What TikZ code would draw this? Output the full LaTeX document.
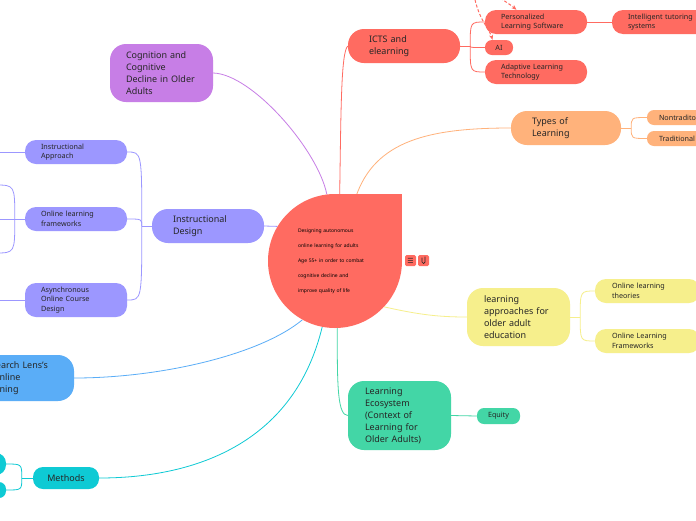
\documentclass[tikz,border=0pt]{standalone}
\usepackage{fontspec}
\setmainfont{Noto Sans}
\newfontfamily\symfont{DejaVu Sans}
\usetikzlibrary{backgrounds,arrows.meta}

\definecolor{ink}{HTML}{262626}
\definecolor{cred}{HTML}{FF6B61}
\definecolor{corange}{HTML}{FFB27B}
\definecolor{cpurple}{HTML}{C77EE6}
\definecolor{cviolet}{HTML}{9C97FF}
\definecolor{cblue}{HTML}{5AADF7}
\definecolor{cteal}{HTML}{0ECAD4}
\definecolor{cyellow}{HTML}{F6EF8C}
\definecolor{cgreen}{HTML}{43D6A6}

\begin{document}
\begin{tikzpicture}[x=1pt, y=-1pt,
    topic/.style={rounded corners=16pt, inner ysep=0pt, inner xsep=17pt, align=left,
      text=ink, font=\fontsize{9}{12}\selectfont},
    leaf/.style={rounded corners=11pt, inner ysep=0pt, inner xsep=16pt, align=left,
      text=ink, font=\fontsize{7.2}{9.5}\selectfont, minimum height=24pt, text width=70pt},
    chip/.style={leaf, rounded corners=7pt, minimum height=15pt},
    icon/.style={fill=cred, rounded corners=1.5pt, minimum size=11pt, inner sep=0pt, text=ink},
    link/.style={line width=0.8pt},
    remark/.style={cred, line width=1pt, dash pattern=on 3pt off 2pt, -{Stealth[length=5pt,width=4pt]}}]

    \useasboundingbox (0,0) rectangle (696,520);

    % central topic
    \fill[cred] (335,194) rectangle (402,261);
    \node[circle, fill=cred, minimum size=134pt, inner sep=0pt, text width=74pt, align=left, text=black,
      font=\bfseries\fontsize{5}{15}\selectfont] (root) at (335,261)
      {\raisebox{-2pt}{}Designing autonomous\\online learning for adults\\Age 55+ in order to combat\\cognitive decline and\\improve quality of life};
    \node[icon] (note) at (410.5,260.5) {\symfont\fontsize{7}{7}\selectfont ☰};
    \node[icon] (clip) at (423.5,260.5) {};
    \draw[ink, line width=0.7pt] (422,257.5) -- (422,262) arc[start angle=180, end angle=0, radius=1.5] -- (425,256.5);

    % ICTS branch
    \node[topic, fill=cred, minimum height=34pt, text width=70pt, inner xsep=21pt] (icts) at (404,46) {ICTS and\\elearning};
    \node[leaf, fill=cred] (pls) at (536,22) {Personalized\\Learning Software};
    \node[chip, fill=cred, text width=12pt, inner xsep=8pt, align=center] (ai) at (499,47.5) {AI};
    \node[leaf, fill=cred] (alt) at (536,72) {Adaptive Learning\\Technology};
    \node[leaf, fill=cred, text width=78pt] (its) at (667,22) {Intelligent tutoring\\systems};
    \coordinate (cmt) at (472,-30);

    % types of learning
    \node[topic, fill=corange, minimum height=34pt, text width=68pt, inner xsep=21pt] (types) at (566,128) {Types of\\Learning};
    \node[chip, fill=corange, text width=56pt, inner xsep=12pt] (nontrad) at (687,117.5) {Nontraditonal};
    \node[chip, fill=corange, text width=46pt, inner xsep=12pt] (trad) at (682,138.5) {Traditional};

    % cognition
    \node[topic, fill=cpurple, minimum height=58pt, text width=71pt, inner xsep=16pt] (cog) at (161.5,73)
      {Cognition and\\Cognitive\\Decline in Older\\Adults};

    % instructional design
    \node[topic, fill=cviolet, minimum height=34pt, text width=70pt, inner xsep=21pt] (id) at (208,226) {Instructional\\Design};
    \node[leaf, fill=cviolet] (iapp) at (76,152) {Instructional\\Approach};
    \node[leaf, fill=cviolet] (olf) at (76,219) {Online learning\\frameworks};
    \node[leaf, fill=cviolet, minimum height=34pt] (aocd) at (76,300) {Asynchronous\\Online Course\\Design};
    \coordinate (iappx) at (-20,152);
    \coordinate (olfa) at (-5,185);
    \coordinate (olfb) at (-5,219);
    \coordinate (olfc) at (-5,253);
    \coordinate (aocdx) at (-20,300);

    % research lens
    \node[topic, fill=cblue, minimum height=46pt, text width=76pt] (rlens) at (19,378) {Research Lens's\\of Online\\Learning};

    % methods
    \node[topic, fill=cteal, rounded corners=10pt, minimum height=22pt, text width=40pt, inner xsep=13pt, align=center] (meth) at (66,478) {Methods};
    \node[fill=cteal, rounded corners=10pt, minimum width=40pt, minimum height=22pt] (mone) at (-14,464) {};
    \node[fill=cteal, rounded corners=7pt, minimum width=40pt, minimum height=16pt] (mtwo) at (-14,490) {};

    % learning approaches
    \node[topic, fill=cyellow, minimum height=58pt, text width=69pt] (lapp) at (518.5,317)
      {learning\\approaches for\\older adult\\education};
    \node[leaf, fill=cyellow, text width=71pt, inner xsep=17pt] (olt) at (647.5,291) {Online learning\\theories};
    \node[leaf, fill=cyellow, text width=71pt, inner xsep=17pt] (olftwo) at (647.5,341) {Online Learning\\Frameworks};

    % learning ecosystem
    \node[topic, fill=cgreen, minimum height=69pt, text width=69pt] (eco) at (399.5,415.5)
      {Learning\\Ecosystem\\(Context of\\Learning for\\Older Adults)};
    \node[chip, fill=cgreen, minimum height=16pt, text width=27pt, inner xsep=8pt, align=center] (equity) at (498.5,416) {Equity};

    \begin{scope}[on background layer]
    \fill[white] (0,0) rectangle (696,520);

    % main branches
    \draw[link, cpurple] (root.97) .. controls (318,150) and (252,74) .. (cog.east);
    \draw[link, cred] (root.86) .. controls (341,110) and (341,52) .. (icts.west);
    \draw[link, corange] (root.72) .. controls (375,140) and (430,128) .. (types.west);
    \draw[link, cviolet] (root.149) -- (id.east);
    \draw[link, cyellow] (root.-43) .. controls (420,315) and (440,317) .. (lapp.west);
    \draw[link, cblue] (root.-119) .. controls (260,355) and (160,378) .. (rlens.east);
    \draw[link, cteal] (root.-101) .. controls (295,440) and (200,478) .. (meth.east);
    \draw[link, cgreen] (root.-88) .. controls (337,390) and (338,415) .. (eco.west);

    % sub branches
    \draw[link, cred] (icts.east) -- ++(10,0) coordinate (ictsj);
    \draw[link, cred] (ictsj) .. controls (ictsj |- pls.west) .. (pls.west);
    \draw[link, cred] (ictsj) .. controls (ictsj |- ai.west) .. (ai.west);
    \draw[link, cred] (ictsj) .. controls (ictsj |- alt.west) .. (alt.west);
    \draw[link, cred] (pls.east) -- (its.west);

    \draw[link, corange] (types.east) -- ++(10,0) coordinate (typesj);
    \draw[link, corange] (typesj) .. controls (typesj |- nontrad.west) .. (nontrad.west);
    \draw[link, corange] (typesj) .. controls (typesj |- trad.west) .. (trad.west);

    \draw[link, cviolet] (id.west) -- ++(-10,0) coordinate (idj);
    \draw[link, cviolet] (idj) .. controls (idj |- iapp.east) .. (iapp.east);
    \draw[link, cviolet] (idj) .. controls (idj |- olf.east) .. (olf.east);
    \draw[link, cviolet] (idj) .. controls (idj |- aocd.east) .. (aocd.east);
    \draw[link, cviolet] (iapp.west) -- (iappx);
    \draw[link, cviolet] (aocd.west) -- (aocdx);
    \draw[link, cviolet] (olf.west) -- ++(-10,0) coordinate (olfj);
    \draw[link, cviolet] (olfj) .. controls (olfj |- olfa) .. (olfa);
    \draw[link, cviolet] (olfj) -- (olfb);
    \draw[link, cviolet] (olfj) .. controls (olfj |- olfc) .. (olfc);

    \draw[link, cteal] (meth.west) -- ++(-11,0) coordinate (methj);
    \draw[link, cteal] (methj) .. controls (methj |- mone.east) .. (mone.east);
    \draw[link, cteal] (methj) .. controls (methj |- mtwo.east) .. (mtwo.east);

    \draw[link, cyellow] (lapp.east) -- ++(10,0) coordinate (lappj);
    \draw[link, cyellow] (lappj) .. controls (lappj |- olt.west) .. (olt.west);
    \draw[link, cyellow] (lappj) .. controls (lappj |- olftwo.west) .. (olftwo.west);

    \draw[link, cgreen] (eco.east) -- (equity.west);
    \end{scope}

    % relations
    \draw[remark] (cmt) .. controls (472,15) and (488,25) .. (ai.130);
    \draw[remark] (cmt) .. controls (490,-5) and (505,0) .. (pls.148);
\end{tikzpicture}
\end{document}
